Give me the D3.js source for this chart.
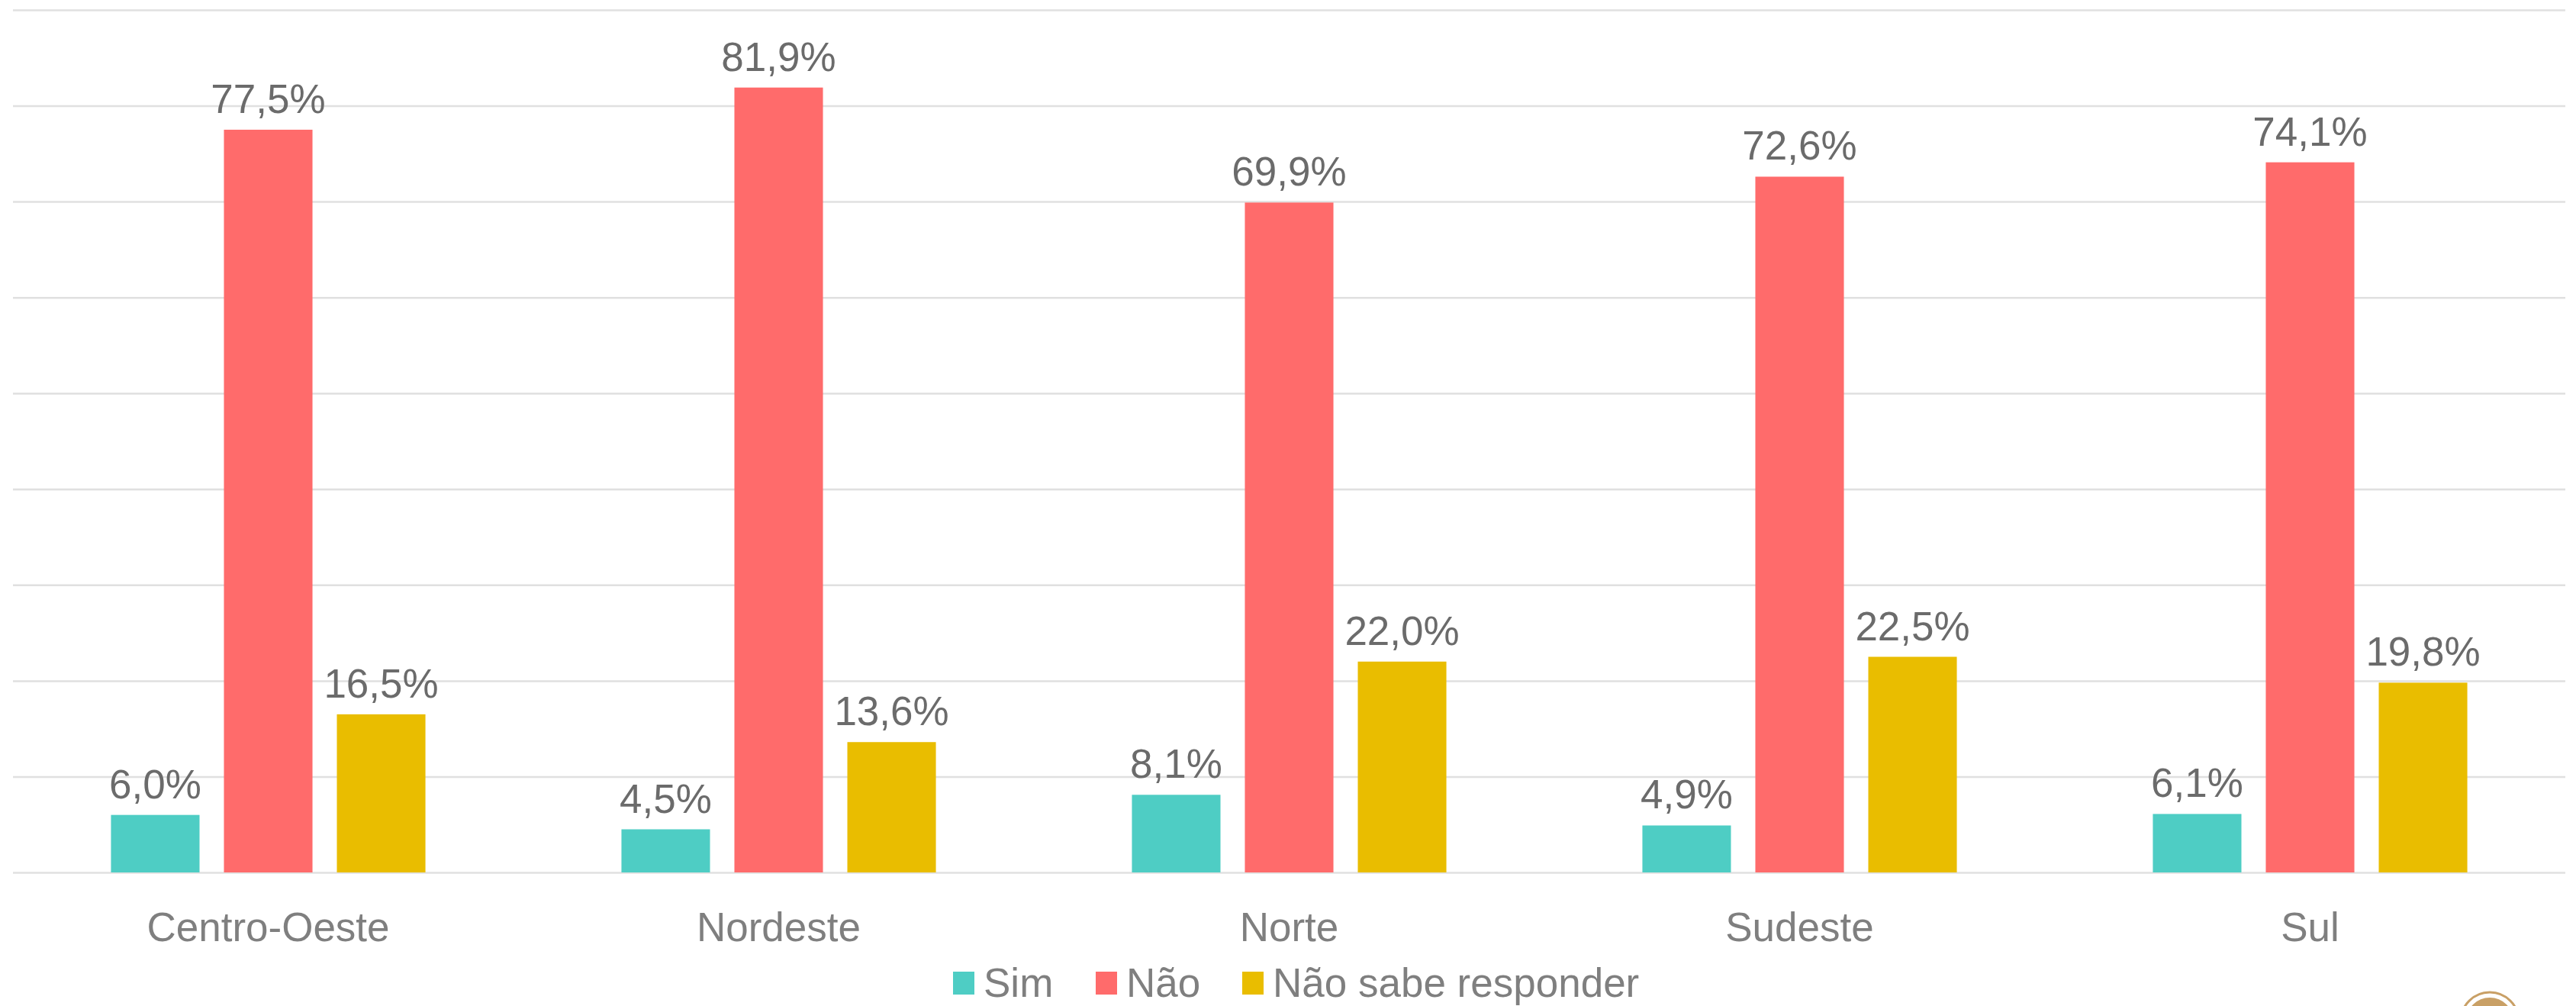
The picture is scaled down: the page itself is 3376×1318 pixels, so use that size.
<!DOCTYPE html>
<html>
<head>
<meta charset="utf-8">
<script src="https://cdn.jsdelivr.net/npm/d3@7"></script>
<style>
  html, body { margin: 0; padding: 0; background: #fff; }
  svg { display: block; font-family: "Liberation Sans", Arial, sans-serif; }
</style>
</head>
<body>
<div id="chart"></div>
<script>
const regions = ["Centro-Oeste", "Nordeste", "Norte", "Sudeste", "Sul"];
const seriesNames = ["Sim", "Não", "Não sabe responder"];
const sim = [6.0, 4.5, 8.1, 4.9, 6.1];
const nao = [77.5, 81.9, 69.9, 72.6, 74.1];
const naoSabe = [16.5, 13.6, 22.0, 22.5, 19.8];
const colors = ["#4ecdc4", "#ff6b6b", "#e9bd00"];
const yTicks = [0, 10, 20, 30, 40, 50, 60, 70, 80, 90];

const seriesValues = [sim, nao, naoSabe];
const data = regions.map((r, i) => ({
    region: r,
    values: seriesNames.map((s, j) => ({ key: s, value: seriesValues[j][i], color: colors[j] }))
}));

const width = 3376, height = 1318;
const margin = { top: 13, right: 14, bottom: 175, left: 17 };
const innerW = width - margin.left - margin.right;
const innerH = height - margin.top - margin.bottom;

const svg = d3.select("#chart")
    .append("svg")
    .attr("width", width)
    .attr("height", height);

const g = svg.append("g")
    .attr("transform", `translate(${margin.left},${margin.top})`);

const x0 = d3.scaleBand()
    .domain(regions)
    .range([0, innerW])
    .padding(0);

const groupW = x0.bandwidth() * 0.616;
const x1 = d3.scaleBand()
    .domain(seriesNames)
    .range([(x0.bandwidth() - groupW) / 2, (x0.bandwidth() + groupW) / 2])
    .paddingInner(0.216)
    .paddingOuter(0);

const y = d3.scaleLinear()
    .domain([0, 90])
    .range([innerH, 0]);

// gridlines
g.append("g")
    .call(d3.axisLeft(y).tickValues(yTicks).tickSize(-innerW).tickFormat(""))
    .call(s => s.select(".domain").remove())
    .call(s => s.selectAll(".tick line").attr("stroke", "#e0e0e0").attr("stroke-width", 2.5));

const groups = g.selectAll(".grp")
    .data(data)
    .enter().append("g")
    .attr("transform", d => `translate(${x0(d.region)},0)`);

groups.selectAll("rect")
    .data(d => d.values)
    .enter().append("rect")
    .attr("x", d => x1(d.key))
    .attr("y", d => y(d.value))
    .attr("width", x1.bandwidth())
    .attr("height", d => innerH - y(d.value))
    .attr("fill", d => d.color);

groups.selectAll("text")
    .data(d => d.values)
    .enter().append("text")
    .attr("x", d => x1(d.key) + x1.bandwidth() / 2)
    .attr("y", d => y(d.value) - 22)
    .attr("text-anchor", "middle")
    .attr("font-size", 53)
    .attr("fill", "#6b6b6b")
    .text(d => d.value.toFixed(1).replace(".", ",") + "%");

// x axis labels
g.append("g")
    .attr("transform", `translate(0,${innerH})`)
    .call(d3.axisBottom(x0).tickSize(0).tickPadding(52))
    .call(s => s.select(".domain").remove())
    .call(s => s.selectAll("text")
        .attr("font-size", 53)
        .attr("font-family", "Liberation Sans, Arial, sans-serif")
        .attr("fill", "#7f7f7f"));

// legend
const legendX = [1249, 1436, 1628];
const legend = svg.append("g").attr("transform", "translate(0,1273)");
seriesNames.forEach((s, i) => {
    legend.append("rect")
        .attr("x", legendX[i])
        .attr("y", 0)
        .attr("width", 28)
        .attr("height", 30)
        .attr("fill", colors[i]);
    legend.append("text")
        .attr("x", legendX[i] + 40)
        .attr("y", 33)
        .attr("font-size", 53)
        .attr("fill", "#7f7f7f")
        .text(s);
});

// partial logo in corner
const logo = svg.append("g").attr("transform", "translate(3263,1338)");
logo.append("circle").attr("r", 38).attr("fill", "none").attr("stroke", "#c9a066").attr("stroke-width", 3);
logo.append("circle").attr("r", 31).attr("fill", "#c9a066");
</script>
</body>
</html>
